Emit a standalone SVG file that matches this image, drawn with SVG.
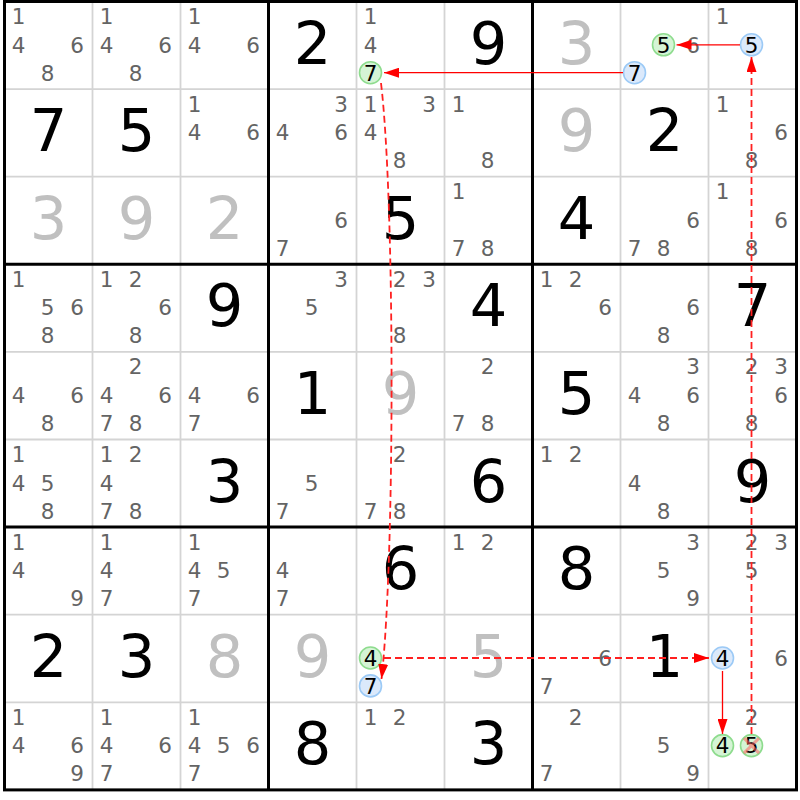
<svg xmlns="http://www.w3.org/2000/svg" width="800" height="800" viewBox="0 0 800 800">
<style>
.s{font-family:"DejaVu Sans",sans-serif;font-size:21.5px;fill:#646464;text-anchor:middle}
.b{font-family:"DejaVu Sans",sans-serif;font-size:59px;fill:#000;text-anchor:middle}
.g{fill:#c0c0c0}
.k{fill:#000}
.cg{fill:#d5f4d5;stroke:#8edc8e;stroke-width:1.6}
.cb{fill:#dbe9fb;stroke:#9ccaf6;stroke-width:1.6}
.thin{stroke:#d4d4d4;stroke-width:1.8;fill:none}
.thick{stroke:#000;stroke-width:3;fill:none}
.sol{stroke:#ff0000;stroke-width:1.3;fill:none}
.dash{stroke:#ff2020;stroke-width:1.8;fill:none;stroke-dasharray:7 4}
.x{stroke:#ff6060;stroke-width:3;opacity:0.55}
</style>
<defs>
<marker id="ah" markerUnits="userSpaceOnUse" markerWidth="15" markerHeight="10" refX="15" refY="5" orient="auto">
<path d="M0,0 L15,5 L0,10 z" fill="#ff0000"/>
</marker>
</defs>
<rect width="800" height="800" fill="#fff"/>
<g id="grid-thin">
<path class="thin" d="M92.5,1.5V789.9M180.5,1.5V789.9M356.5,1.5V789.9M444.5,1.5V789.9M620.5,1.5V789.9M708.5,1.5V789.9M4.5,89.1H796.5M4.5,176.7H796.5M4.5,351.9H796.5M4.5,439.5H796.5M4.5,614.7H796.5M4.5,702.3H796.5"/>
</g>
<g id="cells">
<!-- row 0 -->
<g id="r0c0" transform="translate(4.5,1.5)"><text class="s" x="14" y="22.5">1</text><text class="s" x="14" y="51">4</text><text class="s" x="72.5" y="51">6</text><text class="s" x="43" y="79">8</text></g>
<g id="r0c1" transform="translate(92.5,1.5)"><text class="s" x="14" y="22.5">1</text><text class="s" x="14" y="51">4</text><text class="s" x="72.5" y="51">6</text><text class="s" x="43" y="79">8</text></g>
<g id="r0c2" transform="translate(180.5,1.5)"><text class="s" x="14" y="22.5">1</text><text class="s" x="14" y="51">4</text><text class="s" x="72.5" y="51">6</text></g>
<g id="r0c3" transform="translate(268.5,1.5)"><text class="b" x="44" y="62">2</text></g>
<g id="r0c4" transform="translate(356.5,1.5)"><text class="s" x="14" y="22.5">1</text><text class="s" x="14" y="51">4</text><circle class="cg" cx="14" cy="71.2" r="11"/><text class="s k" x="14" y="79">7</text></g>
<g id="r0c5" transform="translate(444.5,1.5)"><text class="b" x="44" y="62">9</text></g>
<g id="r0c6" transform="translate(532.5,1.5)"><text class="b g" x="44" y="62">3</text></g>
<g id="r0c7" transform="translate(620.5,1.5)"><circle class="cg" cx="43" cy="43.3" r="11"/><text class="s k" x="43" y="51">5</text><text class="s" x="72.5" y="51">6</text><circle class="cb" cx="14" cy="71.2" r="11"/><text class="s k" x="14" y="79">7</text></g>
<g id="r0c8" transform="translate(708.5,1.5)"><text class="s" x="14" y="22.5">1</text><circle class="cb" cx="43" cy="43.3" r="11"/><text class="s k" x="43" y="51">5</text></g>
<!-- row 1 -->
<g id="r1c0" transform="translate(4.5,89.1)"><text class="b" x="44" y="62">7</text></g>
<g id="r1c1" transform="translate(92.5,89.1)"><text class="b" x="44" y="62">5</text></g>
<g id="r1c2" transform="translate(180.5,89.1)"><text class="s" x="14" y="22.5">1</text><text class="s" x="14" y="51">4</text><text class="s" x="72.5" y="51">6</text></g>
<g id="r1c3" transform="translate(268.5,89.1)"><text class="s" x="72.5" y="22.5">3</text><text class="s" x="14" y="51">4</text><text class="s" x="72.5" y="51">6</text></g>
<g id="r1c4" transform="translate(356.5,89.1)"><text class="s" x="14" y="22.5">1</text><text class="s" x="72.5" y="22.5">3</text><text class="s" x="14" y="51">4</text><text class="s" x="43" y="79">8</text></g>
<g id="r1c5" transform="translate(444.5,89.1)"><text class="s" x="14" y="22.5">1</text><text class="s" x="43" y="79">8</text></g>
<g id="r1c6" transform="translate(532.5,89.1)"><text class="b g" x="44" y="62">9</text></g>
<g id="r1c7" transform="translate(620.5,89.1)"><text class="b" x="44" y="62">2</text></g>
<g id="r1c8" transform="translate(708.5,89.1)"><text class="s" x="14" y="22.5">1</text><text class="s" x="72.5" y="51">6</text><text class="s" x="43" y="79">8</text></g>
<!-- row 2 -->
<g id="r2c0" transform="translate(4.5,176.7)"><text class="b g" x="44" y="62">3</text></g>
<g id="r2c1" transform="translate(92.5,176.7)"><text class="b g" x="44" y="62">9</text></g>
<g id="r2c2" transform="translate(180.5,176.7)"><text class="b g" x="44" y="62">2</text></g>
<g id="r2c3" transform="translate(268.5,176.7)"><text class="s" x="72.5" y="51">6</text><text class="s" x="14" y="79">7</text></g>
<g id="r2c4" transform="translate(356.5,176.7)"><text class="b" x="44" y="62">5</text></g>
<g id="r2c5" transform="translate(444.5,176.7)"><text class="s" x="14" y="22.5">1</text><text class="s" x="14" y="79">7</text><text class="s" x="43" y="79">8</text></g>
<g id="r2c6" transform="translate(532.5,176.7)"><text class="b" x="44" y="62">4</text></g>
<g id="r2c7" transform="translate(620.5,176.7)"><text class="s" x="72.5" y="51">6</text><text class="s" x="14" y="79">7</text><text class="s" x="43" y="79">8</text></g>
<g id="r2c8" transform="translate(708.5,176.7)"><text class="s" x="14" y="22.5">1</text><text class="s" x="72.5" y="51">6</text><text class="s" x="43" y="79">8</text></g>
<!-- row 3 -->
<g id="r3c0" transform="translate(4.5,264.3)"><text class="s" x="14" y="22.5">1</text><text class="s" x="43" y="51">5</text><text class="s" x="72.5" y="51">6</text><text class="s" x="43" y="79">8</text></g>
<g id="r3c1" transform="translate(92.5,264.3)"><text class="s" x="14" y="22.5">1</text><text class="s" x="43" y="22.5">2</text><text class="s" x="72.5" y="51">6</text><text class="s" x="43" y="79">8</text></g>
<g id="r3c2" transform="translate(180.5,264.3)"><text class="b" x="44" y="62">9</text></g>
<g id="r3c3" transform="translate(268.5,264.3)"><text class="s" x="72.5" y="22.5">3</text><text class="s" x="43" y="51">5</text></g>
<g id="r3c4" transform="translate(356.5,264.3)"><text class="s" x="43" y="22.5">2</text><text class="s" x="72.5" y="22.5">3</text><text class="s" x="43" y="79">8</text></g>
<g id="r3c5" transform="translate(444.5,264.3)"><text class="b" x="44" y="62">4</text></g>
<g id="r3c6" transform="translate(532.5,264.3)"><text class="s" x="14" y="22.5">1</text><text class="s" x="43" y="22.5">2</text><text class="s" x="72.5" y="51">6</text></g>
<g id="r3c7" transform="translate(620.5,264.3)"><text class="s" x="72.5" y="51">6</text><text class="s" x="43" y="79">8</text></g>
<g id="r3c8" transform="translate(708.5,264.3)"><text class="b" x="44" y="62">7</text></g>
<!-- row 4 -->
<g id="r4c0" transform="translate(4.5,351.9)"><text class="s" x="14" y="51">4</text><text class="s" x="72.5" y="51">6</text><text class="s" x="43" y="79">8</text></g>
<g id="r4c1" transform="translate(92.5,351.9)"><text class="s" x="43" y="22.5">2</text><text class="s" x="14" y="51">4</text><text class="s" x="72.5" y="51">6</text><text class="s" x="14" y="79">7</text><text class="s" x="43" y="79">8</text></g>
<g id="r4c2" transform="translate(180.5,351.9)"><text class="s" x="14" y="51">4</text><text class="s" x="72.5" y="51">6</text><text class="s" x="14" y="79">7</text></g>
<g id="r4c3" transform="translate(268.5,351.9)"><text class="b" x="44" y="62">1</text></g>
<g id="r4c4" transform="translate(356.5,351.9)"><text class="b g" x="44" y="62">9</text></g>
<g id="r4c5" transform="translate(444.5,351.9)"><text class="s" x="43" y="22.5">2</text><text class="s" x="14" y="79">7</text><text class="s" x="43" y="79">8</text></g>
<g id="r4c6" transform="translate(532.5,351.9)"><text class="b" x="44" y="62">5</text></g>
<g id="r4c7" transform="translate(620.5,351.9)"><text class="s" x="72.5" y="22.5">3</text><text class="s" x="14" y="51">4</text><text class="s" x="72.5" y="51">6</text><text class="s" x="43" y="79">8</text></g>
<g id="r4c8" transform="translate(708.5,351.9)"><text class="s" x="43" y="22.5">2</text><text class="s" x="72.5" y="22.5">3</text><text class="s" x="72.5" y="51">6</text><text class="s" x="43" y="79">8</text></g>
<!-- row 5 -->
<g id="r5c0" transform="translate(4.5,439.5)"><text class="s" x="14" y="22.5">1</text><text class="s" x="14" y="51">4</text><text class="s" x="43" y="51">5</text><text class="s" x="43" y="79">8</text></g>
<g id="r5c1" transform="translate(92.5,439.5)"><text class="s" x="14" y="22.5">1</text><text class="s" x="43" y="22.5">2</text><text class="s" x="14" y="51">4</text><text class="s" x="14" y="79">7</text><text class="s" x="43" y="79">8</text></g>
<g id="r5c2" transform="translate(180.5,439.5)"><text class="b" x="44" y="62">3</text></g>
<g id="r5c3" transform="translate(268.5,439.5)"><text class="s" x="43" y="51">5</text><text class="s" x="14" y="79">7</text></g>
<g id="r5c4" transform="translate(356.5,439.5)"><text class="s" x="43" y="22.5">2</text><text class="s" x="14" y="79">7</text><text class="s" x="43" y="79">8</text></g>
<g id="r5c5" transform="translate(444.5,439.5)"><text class="b" x="44" y="62">6</text></g>
<g id="r5c6" transform="translate(532.5,439.5)"><text class="s" x="14" y="22.5">1</text><text class="s" x="43" y="22.5">2</text></g>
<g id="r5c7" transform="translate(620.5,439.5)"><text class="s" x="14" y="51">4</text><text class="s" x="43" y="79">8</text></g>
<g id="r5c8" transform="translate(708.5,439.5)"><text class="b" x="44" y="62">9</text></g>
<!-- row 6 -->
<g id="r6c0" transform="translate(4.5,527.1)"><text class="s" x="14" y="22.5">1</text><text class="s" x="14" y="51">4</text><text class="s" x="72.5" y="79">9</text></g>
<g id="r6c1" transform="translate(92.5,527.1)"><text class="s" x="14" y="22.5">1</text><text class="s" x="14" y="51">4</text><text class="s" x="14" y="79">7</text></g>
<g id="r6c2" transform="translate(180.5,527.1)"><text class="s" x="14" y="22.5">1</text><text class="s" x="14" y="51">4</text><text class="s" x="43" y="51">5</text><text class="s" x="14" y="79">7</text></g>
<g id="r6c3" transform="translate(268.5,527.1)"><text class="s" x="14" y="51">4</text><text class="s" x="14" y="79">7</text></g>
<g id="r6c4" transform="translate(356.5,527.1)"><text class="b" x="44" y="62">6</text></g>
<g id="r6c5" transform="translate(444.5,527.1)"><text class="s" x="14" y="22.5">1</text><text class="s" x="43" y="22.5">2</text></g>
<g id="r6c6" transform="translate(532.5,527.1)"><text class="b" x="44" y="62">8</text></g>
<g id="r6c7" transform="translate(620.5,527.1)"><text class="s" x="72.5" y="22.5">3</text><text class="s" x="43" y="51">5</text><text class="s" x="72.5" y="79">9</text></g>
<g id="r6c8" transform="translate(708.5,527.1)"><text class="s" x="43" y="22.5">2</text><text class="s" x="72.5" y="22.5">3</text><text class="s" x="43" y="51">5</text></g>
<!-- row 7 -->
<g id="r7c0" transform="translate(4.5,614.7)"><text class="b" x="44" y="62">2</text></g>
<g id="r7c1" transform="translate(92.5,614.7)"><text class="b" x="44" y="62">3</text></g>
<g id="r7c2" transform="translate(180.5,614.7)"><text class="b g" x="44" y="62">8</text></g>
<g id="r7c3" transform="translate(268.5,614.7)"><text class="b g" x="44" y="62">9</text></g>
<g id="r7c4" transform="translate(356.5,614.7)"><circle class="cg" cx="14" cy="43.3" r="11"/><text class="s k" x="14" y="51">4</text><circle class="cb" cx="14" cy="71.2" r="11"/><text class="s k" x="14" y="79">7</text></g>
<g id="r7c5" transform="translate(444.5,614.7)"><text class="b g" x="44" y="62">5</text></g>
<g id="r7c6" transform="translate(532.5,614.7)"><text class="s" x="72.5" y="51">6</text><text class="s" x="14" y="79">7</text></g>
<g id="r7c7" transform="translate(620.5,614.7)"><text class="b" x="44" y="62">1</text></g>
<g id="r7c8" transform="translate(708.5,614.7)"><circle class="cb" cx="14" cy="43.3" r="11"/><text class="s k" x="14" y="51">4</text><text class="s" x="72.5" y="51">6</text></g>
<!-- row 8 -->
<g id="r8c0" transform="translate(4.5,702.3)"><text class="s" x="14" y="22.5">1</text><text class="s" x="14" y="51">4</text><text class="s" x="72.5" y="51">6</text><text class="s" x="72.5" y="79">9</text></g>
<g id="r8c1" transform="translate(92.5,702.3)"><text class="s" x="14" y="22.5">1</text><text class="s" x="14" y="51">4</text><text class="s" x="72.5" y="51">6</text><text class="s" x="14" y="79">7</text></g>
<g id="r8c2" transform="translate(180.5,702.3)"><text class="s" x="14" y="22.5">1</text><text class="s" x="14" y="51">4</text><text class="s" x="43" y="51">5</text><text class="s" x="72.5" y="51">6</text><text class="s" x="14" y="79">7</text></g>
<g id="r8c3" transform="translate(268.5,702.3)"><text class="b" x="44" y="62">8</text></g>
<g id="r8c4" transform="translate(356.5,702.3)"><text class="s" x="14" y="22.5">1</text><text class="s" x="43" y="22.5">2</text></g>
<g id="r8c5" transform="translate(444.5,702.3)"><text class="b" x="44" y="62">3</text></g>
<g id="r8c6" transform="translate(532.5,702.3)"><text class="s" x="43" y="22.5">2</text><text class="s" x="14" y="79">7</text></g>
<g id="r8c7" transform="translate(620.5,702.3)"><text class="s" x="43" y="51">5</text><text class="s" x="72.5" y="79">9</text></g>
<g id="r8c8" transform="translate(708.5,702.3)"><text class="s" x="43" y="22.5">2</text><circle class="cg" cx="14" cy="43.3" r="11"/><text class="s k" x="14" y="51">4</text><circle class="cg" cx="43" cy="43.3" r="11"/><text class="s k" x="43" y="51">5</text><path class="x" d="M35.5,35.8L50.5,50.8M50.5,35.8L35.5,50.8"/></g>
</g>
<g id="grid-thick">
<rect class="thick" x="4.5" y="1.5" width="792" height="788.4"/>
<path class="thick" d="M268.5,1.5V789.9M532.5,1.5V789.9M4.5,264.3H796.5M4.5,527.1H796.5"/>
</g>
<g id="connectors">
<path class="sol" d="M623,72.7H384" marker-end="url(#ah)"/>
<path class="sol" d="M740,44.8H676.5" marker-end="url(#ah)"/>
<path class="dash" d="M381,83C395,200 395,560 381.5,679" marker-end="url(#ah)"/>
<path class="dash" d="M384,658H709" marker-end="url(#ah)"/>
<path class="sol" d="M722.5,671V734" marker-end="url(#ah)"/>
<path class="dash" d="M751.5,734V57" marker-end="url(#ah)"/>
</g>
</svg>
